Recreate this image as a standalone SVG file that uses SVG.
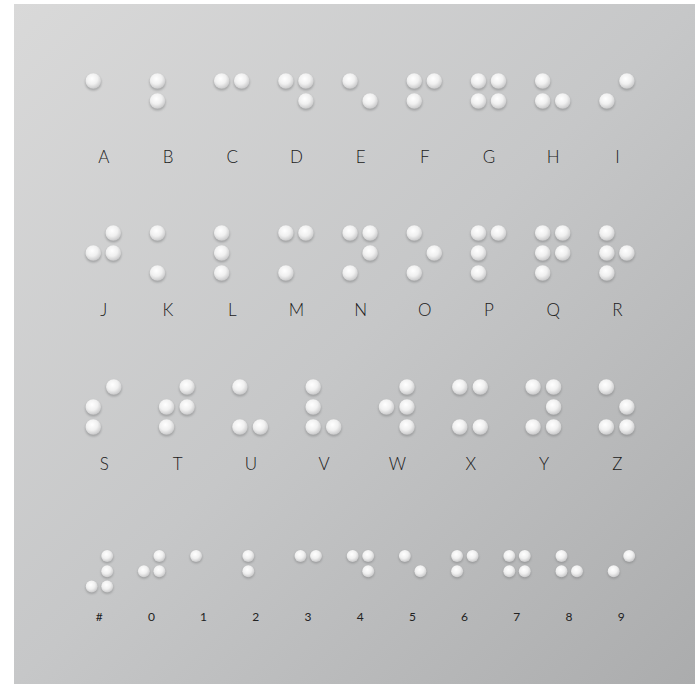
<svg xmlns="http://www.w3.org/2000/svg" xmlns:xlink="http://www.w3.org/1999/xlink" width="695" height="684" viewBox="0 0 695 684">
<defs>
<linearGradient id="bg" x1="0" y1="0" x2="1" y2="1">
<stop offset="0" stop-color="#d9d9d9"/>
<stop offset="0.5" stop-color="#c6c7c8"/>
<stop offset="1" stop-color="#abacad"/>
</linearGradient>
<radialGradient id="dotg" cx="0.42" cy="0.35" r="0.65">
<stop offset="0" stop-color="#ffffff"/>
<stop offset="0.55" stop-color="#f0f0f0"/>
<stop offset="1" stop-color="#c9c9ca"/>
</radialGradient>
<filter id="blur" x="-50%" y="-50%" width="200%" height="200%">
<feGaussianBlur stdDeviation="1"/>
</filter>
<g id="dL">
<circle cx="0" cy="1.6" r="8" fill="#7f8081" opacity="0.55" filter="url(#blur)"/>
<circle cx="0" cy="0" r="7.8" fill="url(#dotg)"/>
</g>
<g id="dS">
<circle cx="0" cy="1.3" r="6.2" fill="#7f8081" opacity="0.55" filter="url(#blur)"/>
<circle cx="0" cy="0" r="6" fill="url(#dotg)"/>
</g>
</defs>
<style>
.lt{font-family:Lato,"Liberation Sans",sans-serif;font-weight:300;font-size:17px;fill:#1a1a1a;text-anchor:middle}
.nt{font-family:Lato,"Liberation Sans",sans-serif;font-weight:400;font-size:12px;fill:#222222;text-anchor:middle}
</style>
<rect x="14" y="4" width="681" height="680" fill="url(#bg)"/>

<g id="A"><use href="#dL" x="93.3" y="81"/><text class="lt" x="103.8" y="163">A</text></g>
<g id="B"><use href="#dL" x="157.5" y="81"/><use href="#dL" x="157.5" y="101"/><text class="lt" x="168" y="163">B</text></g>
<g id="C"><use href="#dL" x="221.7" y="81"/><use href="#dL" x="241.7" y="81"/><text class="lt" x="232.2" y="163">C</text></g>
<g id="D"><use href="#dL" x="285.9" y="81"/><use href="#dL" x="305.9" y="81"/><use href="#dL" x="305.9" y="101"/><text class="lt" x="296.4" y="163">D</text></g>
<g id="E"><use href="#dL" x="350.1" y="81"/><use href="#dL" x="370.1" y="101"/><text class="lt" x="360.6" y="163">E</text></g>
<g id="F"><use href="#dL" x="414.3" y="81"/><use href="#dL" x="414.3" y="101"/><use href="#dL" x="434.3" y="81"/><text class="lt" x="424.8" y="163">F</text></g>
<g id="G"><use href="#dL" x="478.5" y="81"/><use href="#dL" x="478.5" y="101"/><use href="#dL" x="498.5" y="81"/><use href="#dL" x="498.5" y="101"/><text class="lt" x="489" y="163">G</text></g>
<g id="H"><use href="#dL" x="542.7" y="81"/><use href="#dL" x="542.7" y="101"/><use href="#dL" x="562.7" y="101"/><text class="lt" x="553.2" y="163">H</text></g>
<g id="I"><use href="#dL" x="606.9" y="101"/><use href="#dL" x="626.9" y="81"/><text class="lt" x="617.4" y="163">I</text></g>

<g id="J"><use href="#dL" x="93.3" y="253"/><use href="#dL" x="113.3" y="233"/><use href="#dL" x="113.3" y="253"/><text class="lt" x="103.8" y="316">J</text></g>
<g id="K"><use href="#dL" x="157.5" y="233"/><use href="#dL" x="157.5" y="273"/><text class="lt" x="168" y="316">K</text></g>
<g id="L"><use href="#dL" x="221.7" y="233"/><use href="#dL" x="221.7" y="253"/><use href="#dL" x="221.7" y="273"/><text class="lt" x="232.2" y="316">L</text></g>
<g id="M"><use href="#dL" x="285.9" y="233"/><use href="#dL" x="285.9" y="273"/><use href="#dL" x="305.9" y="233"/><text class="lt" x="296.4" y="316">M</text></g>
<g id="N"><use href="#dL" x="350.1" y="233"/><use href="#dL" x="350.1" y="273"/><use href="#dL" x="370.1" y="233"/><use href="#dL" x="370.1" y="253"/><text class="lt" x="360.6" y="316">N</text></g>
<g id="O"><use href="#dL" x="414.3" y="233"/><use href="#dL" x="414.3" y="273"/><use href="#dL" x="434.3" y="253"/><text class="lt" x="424.8" y="316">O</text></g>
<g id="P"><use href="#dL" x="478.5" y="233"/><use href="#dL" x="478.5" y="253"/><use href="#dL" x="478.5" y="273"/><use href="#dL" x="498.5" y="233"/><text class="lt" x="489" y="316">P</text></g>
<g id="Q"><use href="#dL" x="542.7" y="233"/><use href="#dL" x="542.7" y="253"/><use href="#dL" x="542.7" y="273"/><use href="#dL" x="562.7" y="233"/><use href="#dL" x="562.7" y="253"/><text class="lt" x="553.2" y="316">Q</text></g>
<g id="R"><use href="#dL" x="606.9" y="233"/><use href="#dL" x="606.9" y="253"/><use href="#dL" x="606.9" y="273"/><use href="#dL" x="626.9" y="253"/><text class="lt" x="617.4" y="316">R</text></g>

<g id="S"><use href="#dL" x="93.3" y="407"/><use href="#dL" x="93.3" y="427"/><use href="#dL" x="113.8" y="387"/><text class="lt" x="104.3" y="470">S</text></g>
<g id="T"><use href="#dL" x="166.6" y="407"/><use href="#dL" x="166.6" y="427"/><use href="#dL" x="187.1" y="387"/><use href="#dL" x="187.1" y="407"/><text class="lt" x="177.6" y="470">T</text></g>
<g id="U"><use href="#dL" x="239.9" y="387"/><use href="#dL" x="239.9" y="427"/><use href="#dL" x="260.4" y="427"/><text class="lt" x="250.9" y="470">U</text></g>
<g id="V"><use href="#dL" x="313.2" y="387"/><use href="#dL" x="313.2" y="407"/><use href="#dL" x="313.2" y="427"/><use href="#dL" x="333.7" y="427"/><text class="lt" x="324.2" y="470">V</text></g>
<g id="W"><use href="#dL" x="386.5" y="407"/><use href="#dL" x="407" y="387"/><use href="#dL" x="407" y="407"/><use href="#dL" x="407" y="427"/><text class="lt" x="397.5" y="470">W</text></g>
<g id="X"><use href="#dL" x="459.8" y="387"/><use href="#dL" x="459.8" y="427"/><use href="#dL" x="480.3" y="387"/><use href="#dL" x="480.3" y="427"/><text class="lt" x="470.8" y="470">X</text></g>
<g id="Y"><use href="#dL" x="533.1" y="387"/><use href="#dL" x="533.1" y="427"/><use href="#dL" x="553.6" y="387"/><use href="#dL" x="553.6" y="407"/><use href="#dL" x="553.6" y="427"/><text class="lt" x="544.1" y="470">Y</text></g>
<g id="Z"><use href="#dL" x="606.4" y="387"/><use href="#dL" x="606.4" y="427"/><use href="#dL" x="626.9" y="407"/><use href="#dL" x="626.9" y="427"/><text class="lt" x="617.4" y="470">Z</text></g>

<g id="num-sign"><use href="#dS" x="91.7" y="586.6"/><use href="#dS" x="107.2" y="556"/><use href="#dS" x="107.2" y="571.3"/><use href="#dS" x="107.2" y="586.6"/><text class="nt" x="99.2" y="621">#</text></g>
<g id="n0"><use href="#dS" x="143.9" y="571.3"/><use href="#dS" x="159.4" y="556"/><use href="#dS" x="159.4" y="571.3"/><text class="nt" x="151.4" y="621">0</text></g>
<g id="n1"><use href="#dS" x="196.1" y="556"/><text class="nt" x="203.6" y="621">1</text></g>
<g id="n2"><use href="#dS" x="248.3" y="556"/><use href="#dS" x="248.3" y="571.3"/><text class="nt" x="255.8" y="621">2</text></g>
<g id="n3"><use href="#dS" x="300.5" y="556"/><use href="#dS" x="316" y="556"/><text class="nt" x="308" y="621">3</text></g>
<g id="n4"><use href="#dS" x="352.7" y="556"/><use href="#dS" x="368.2" y="556"/><use href="#dS" x="368.2" y="571.3"/><text class="nt" x="360.2" y="621">4</text></g>
<g id="n5"><use href="#dS" x="404.9" y="556"/><use href="#dS" x="420.4" y="571.3"/><text class="nt" x="412.4" y="621">5</text></g>
<g id="n6"><use href="#dS" x="457.1" y="556"/><use href="#dS" x="457.1" y="571.3"/><use href="#dS" x="472.6" y="556"/><text class="nt" x="464.6" y="621">6</text></g>
<g id="n7"><use href="#dS" x="509.3" y="556"/><use href="#dS" x="509.3" y="571.3"/><use href="#dS" x="524.8" y="556"/><use href="#dS" x="524.8" y="571.3"/><text class="nt" x="516.8" y="621">7</text></g>
<g id="n8"><use href="#dS" x="561.5" y="556"/><use href="#dS" x="561.5" y="571.3"/><use href="#dS" x="577" y="571.3"/><text class="nt" x="569" y="621">8</text></g>
<g id="n9"><use href="#dS" x="613.7" y="571.3"/><use href="#dS" x="629.2" y="556"/><text class="nt" x="621.2" y="621">9</text></g>
</svg>
